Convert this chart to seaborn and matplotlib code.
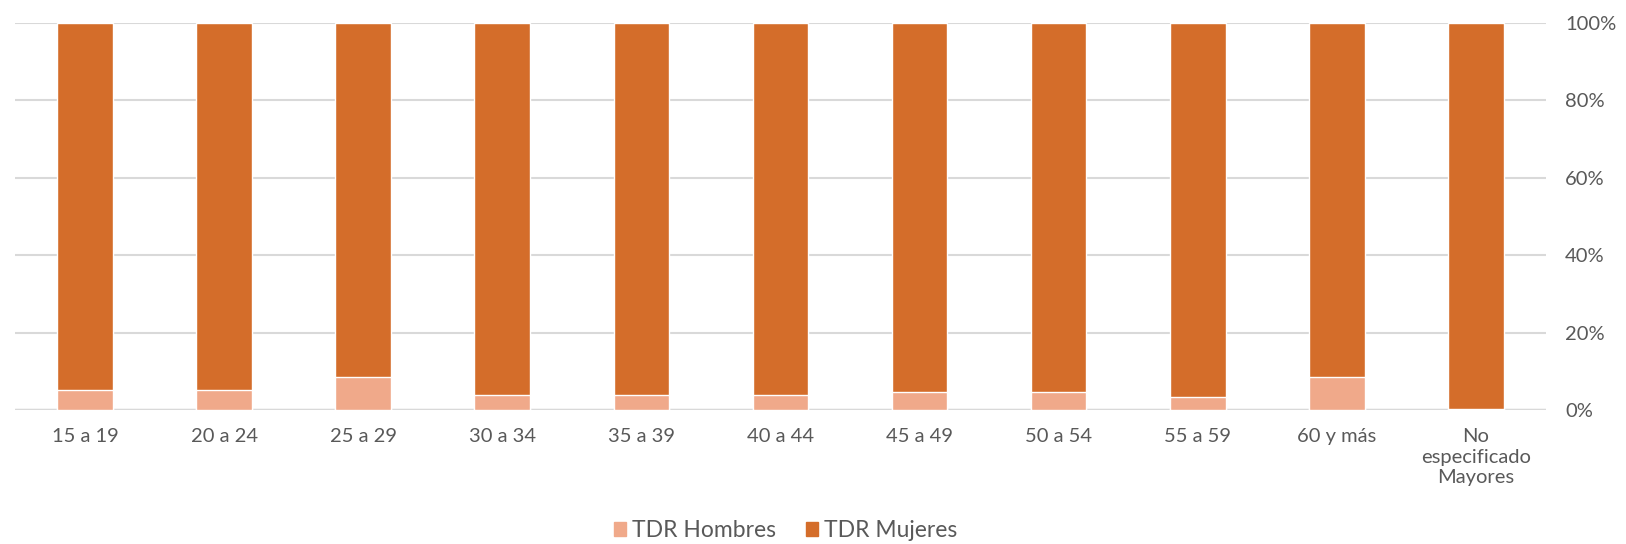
import numpy as np
import pandas as pd
import matplotlib
matplotlib.use("Agg")
import matplotlib.pyplot as plt
import seaborn as sns
from matplotlib.ticker import PercentFormatter
from matplotlib.patches import Patch

# ---------------- DATA ----------------
grupos = ["15 a 19", "20 a 24", "25 a 29", "30 a 34", "35 a 39", "40 a 44",
          "45 a 49", "50 a 54", "55 a 59", "60 y más", "No\nespecificado\nMayores"]
tdr_hombres = [5.2, 5.3, 8.6, 3.9, 3.9, 3.9, 4.6, 4.6, 3.4, 8.6, 0.3]
tdr_mujeres = [100 - h for h in tdr_hombres]

color_h = "#F0A98A"
color_m = "#D46D2A"
gris = "#595959"

df = pd.DataFrame({"Grupo": grupos, "Hombres": tdr_hombres, "Mujeres": tdr_mujeres})
df["Total"] = df["Hombres"] + df["Mujeres"]

sns.set_style("white")
plt.rcParams["font.family"] = ["Lato", "DejaVu Sans"]

fig = plt.figure(figsize=(16.26, 5.44), dpi=100)
ax = fig.add_axes([0.0095, 0.246, 0.941, 0.712])

# stacked 100% bars: full bar in Mujeres colour, Hombres share drawn over the bottom
sns.barplot(data=df, x="Grupo", y="Total", color=color_m, width=0.4,
            saturation=1, ax=ax, zorder=2)
sns.barplot(data=df, x="Grupo", y="Hombres", color=color_h, width=0.4,
            saturation=1, ax=ax, zorder=3)

ax.set_ylim(0, 100)
ax.set_xlim(-0.5, len(grupos) - 0.5)
ax.set_yticks(np.arange(0, 101, 20))
ax.yaxis.set_major_formatter(PercentFormatter(decimals=0))
ax.yaxis.tick_right()
ax.grid(axis="y", color="#D9D9D9", linewidth=1.5, zorder=0)
ax.set_axisbelow(True)
for s in ax.spines.values():
    s.set_visible(False)
ax.axhline(0, color="#D9D9D9", linewidth=2.5, zorder=1)

ax.set_xlabel("")
ax.set_ylabel("")
ax.tick_params(axis="both", length=0, labelsize=14.5, colors=gris)
ax.tick_params(axis="x", pad=13)
ax.tick_params(axis="y", pad=14)
for lbl in ax.get_xticklabels():
    lbl.set_linespacing(1.25)

handles = [Patch(color=color_h, label="TDR Hombres"),
           Patch(color=color_m, label="TDR Mujeres")]
fig.legend(handles=handles, loc="center", bbox_to_anchor=(0.483, 0.025), ncol=2,
           frameon=False, fontsize=16.5, labelcolor=gris, handlelength=0.55,
           handleheight=0.55, handletextpad=0.25, columnspacing=1.3)

fig.savefig("out.png", dpi=100)
